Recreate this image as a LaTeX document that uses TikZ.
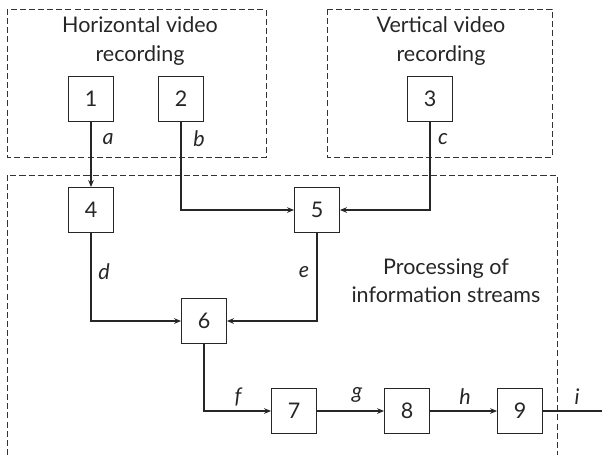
\documentclass[tikz,border=0pt]{standalone}
\usepackage{fontspec}
\setmainfont{Lato}
\usepackage{tikz}
\usetikzlibrary{arrows.meta, positioning}

\tikzset{
  block/.style={draw, line width=0.75pt, minimum width=1.12cm, minimum height=1.12cm, inner sep=0pt, font=\fontsize{15.3}{18}\selectfont},
  frame/.style={draw=black!80, line width=0.7pt, dash pattern=on 4.3pt off 2.2pt},
  link/.style={line width=0.75pt, -{Stealth[length=5pt, width=4pt]}},
  tag/.style={font=\fontsize{15.3}{18}\selectfont\itshape},
  caption/.style={align=center, font=\fontsize{15.3}{20}\selectfont}
}

\begin{document}
\begin{tikzpicture}[x=0.025cm, y=-0.025cm, color=black!85]
  \useasboundingbox (0,0) rectangle (602,455);

  % frames
  \draw[frame] (7,9) rectangle (266,157);
  \draw[frame] (327,9) rectangle (552,157);
  \draw[frame] (7,455) -- (7,175) -- (557,175) -- (557,455);

  \node[caption] (hrec) at (140,41) {Horizontal video\\recording};
  \node[caption] (vrec) at (441,41) {Vertical video\\recording};
  \node[caption] (proc) at (446,281) {Processing of\\information streams};

  % blocks
  \node[block] (b1) at (91,99) {1};
  \node[block] (b2) at (181,99) {2};
  \node[block] (b3) at (430,99) {3};
  \node[block] (b4) at (91,210) {4};
  \node[block] (b5) at (317,210) {5};
  \node[block] (b6) at (204,321) {6};
  \node[block] (b7) at (294,411) {7};
  \node[block] (b8) at (407,411) {8};
  \node[block] (b9) at (520,411) {9};
  \coordinate (out) at (602,411);

  % connectors
  \draw[link] (b1) -- (b4);
  \draw[link] (b2) |- (b5);
  \draw[link] (b3) |- (b5);
  \draw[link] (b4) |- (b6);
  \draw[link] (b5) |- (b6);
  \draw[link] (b6) |- (b7);
  \draw[link] (b7) -- (b8);
  \draw[link] (b8) -- (b9);
  \draw[line width=0.75pt] (b9) -- (out);

  % stream labels
  \node[tag] at (108,139) {a};
  \node[tag] at (199,139) {b};
  \node[tag] at (443,139) {c};
  \node[tag] at (104,272) {d};
  \node[tag] at (304,272) {e};
  \node[tag] at (238,397) {f};
  \node[tag] at (357,395) {g};
  \node[tag] at (465,397) {h};
  \node[tag] at (577,397) {i};
\end{tikzpicture}
\end{document}
